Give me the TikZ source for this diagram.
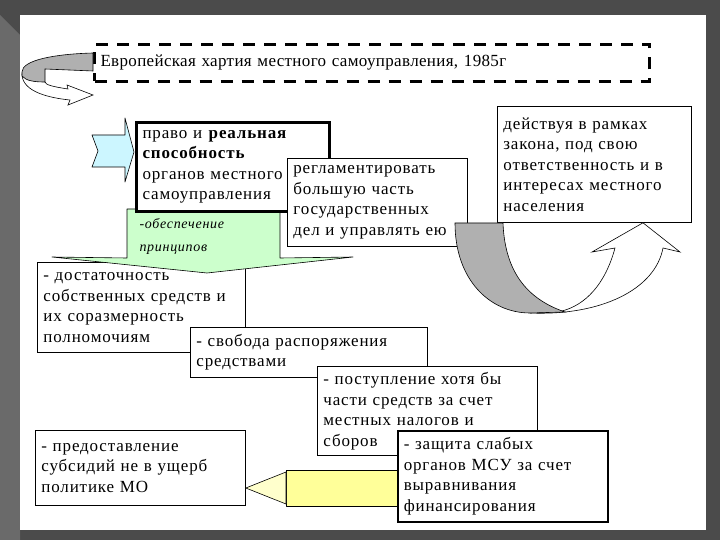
\documentclass[tikz,border=0pt]{standalone}
\usepackage{fontspec}
\setmainfont{Liberation Serif}
\newfontfamily\boxfont[LetterSpace=5]{Liberation Serif}
\newfontfamily\titlefont[LetterSpace=2]{Liberation Serif}
\usetikzlibrary{positioning}
\definecolor{slidegray}{HTML}{4B4B4B}
\definecolor{sidegray}{HTML}{6A6A6A}
\definecolor{blockblue}{HTML}{CCF6FF}
\definecolor{blockgreen}{HTML}{CCFFCC}
\definecolor{blockyellow}{HTML}{FFFF99}
\definecolor{ribbongray}{HTML}{B0B0B0}
\tikzset{
  box/.style 2 args={draw, fill=white, line width=0.8pt, anchor=north west, align=left,
    inner sep=6pt, text width=#1-12pt, minimum height=#2,
    font=\boxfont\fontsize{17}{20.5}\selectfont},
  thickbox/.style={line width=3pt},
  blockarrow/.style={draw, line width=0.6pt, line join=round},
  principle/.style={anchor=north west, align=left, font=\boxfont\fontsize{14}{23}\selectfont\itshape}
}
\begin{document}
\begin{tikzpicture}[x=1pt,y=-1pt]
  % slide
  \fill[slidegray] (0,0) rectangle (720,540);
  \fill[sidegray] (0,15) -- (20,35) -- (20,540) -- (0,540) -- cycle;
  \fill[white] (20,15) rectangle (706,530);
  \useasboundingbox (0,0) rectangle (720,540);

  % title
  \node[box={555pt}{37pt}, draw, line width=3pt, dash pattern=on 12pt off 9pt,
        font=\titlefont\fontsize{17}{20}\selectfont] (charter) at (93,43)
        {\raisebox{5pt}{Европейская хартия местного самоуправления, 1985г}};
  % twisted arrow left of the title
  \filldraw[fill=white, draw=black, line width=0.6pt] (22,74) .. controls (22,92) and (50,98) .. (70,100)
     -- (68,105) -- (93,95) -- (67,85) -- (68,89) .. controls (55,87) and (45,85) .. (45,82) -- cycle;
  \filldraw[fill=ribbongray, line width=0.6pt] (charter.north west) ++(0,10)
     .. controls (55,54) and (22,60) .. (22,72) -- (22,76)
     .. controls (26,81) and (35,82) .. (45,82) -- (45,69) -- (93,71) -- cycle;

  % blue arrow into the first box
  \filldraw[blockarrow, fill=blockblue] (92,135) -- (125,135) -- (125,118) -- (134,152)
     -- (125,182) -- (125,167) -- (92,167) -- (98,151) -- cycle;

  \node[box={208pt}{90pt}] (sufficiency) at (37,262)
    {- достаточность\\ собственных средств и\\ их соразмерность\\ полномочиям};

  % green arrow with the principles
  \filldraw[blockarrow, fill=blockgreen] (127,209) -- (280,209) -- (280,258) -- (353,257)
     -- (207,273) -- (52,257) -- (127,258) -- cycle;
  \node[principle] (principles) at (136,215) {-обеспечение\\ принципов};

  \node[box={193pt}{89pt}, thickbox] (right) at (135,121)
    {право и \textbf{реальная}\\ \textbf{способность}\\ органов местного\\ самоуправления};
  \node[box={180pt}{88pt}] (regulate) at (287,158)
    {регламентировать\\ большую часть\\ государственных\\ дел и управлять ею};
  \node[box={194pt}{116pt}] (acting) at (497,106)
    {действуя в рамках\\ закона, под свою\\ ответственность и в\\ интересах местного\\ населения};

  % U-turn arrow
  \filldraw[fill=white, line width=0.6pt] (530,313) .. controls (600,316) and (655,290) .. (663,248)
     -- (680,252) -- (acting.south west -| 643,0) -- (592,252) -- (615,248)
     .. controls (605,285) and (585,305) .. (562,311) -- cycle;
  \filldraw[fill=ribbongray, line width=0.6pt] (455,223) -- (503,223)
     .. controls (505,275) and (530,300) .. (565,312) -- (530,313)
     .. controls (490,313) and (455,280) .. (455,223) -- cycle;

  \node[box={237pt}{50pt}] (freedom) at (190,327)
    {- свобода распоряжения\\ средствами};
  \node[box={220pt}{89pt}] (taxes) at (317,366)
    {- поступление хотя бы\\ части средств за счет\\ местных налогов и\\ сборов};
  \node[box={210pt}{75pt}] (subsidy) at (35,430)
    {- предоставление\\ субсидий не в ущерб\\ политике МО};

  % yellow arrow
  \filldraw[blockarrow, fill=blockyellow] (400,470) -- (286,470) -- (286,506) -- (400,506) -- cycle;
  \filldraw[blockarrow, fill=blockyellow!50] (286,472) -- (subsidy.east |- 0,488) -- (286,504) -- cycle;

  \node[box={210pt}{91pt}, line width=1.5pt] (protect) at (397,430)
    {- защита слабых\\ органов МСУ за счет\\ выравнивания\\ финансирования};
\end{tikzpicture}
\end{document}
